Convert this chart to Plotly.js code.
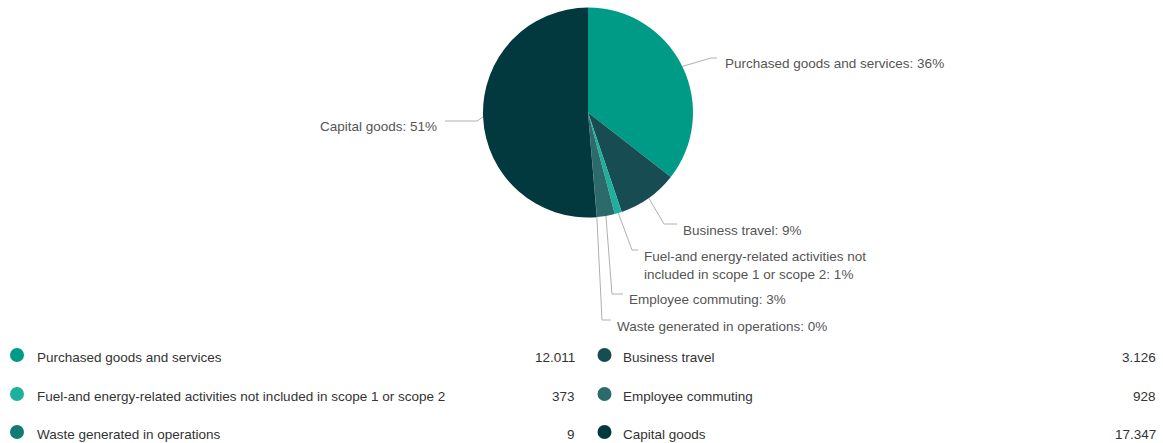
<!DOCTYPE html>
<html><head><meta charset="utf-8">
<script src="https://cdn.plot.ly/plotly-3.0.1.min.js"></script>
<style>html,body{margin:0;padding:0;background:#fff}#chart{width:1163px;height:443px}</style>
</head><body><div id="chart"></div>
<script>
// ---- data ----
const categories = ["Purchased goods and services", "Business travel",
  "Fuel-and energy-related activities not included in scope 1 or scope 2",
  "Employee commuting", "Waste generated in operations", "Capital goods"];
const pieLabelText = ["Purchased goods and services", "Business travel",
  "Fuel-and energy-related activities not<br>included in scope 1 or scope 2",
  "Employee commuting", "Waste generated in operations", "Capital goods"];
const values = [12011, 3126, 373, 928, 9, 17347];
const colors = ["#009b87", "#174d52", "#1db09c", "#2d6a6c", "#127d6e", "#01393e"];

// ---- layout constants (pixels) ----
const W = 1163, H = 443;
const CX = 588, CY = 112.5, R = 105;
const px = x => x / W, py = y => 1 - y / H;
const FONT = 'Liberation Sans, Arial, sans-serif';

// label placement: text position, anchor, elbow point, end of horizontal
const labelPos = [
  {tx: 723, ty: 64,  anchor: 'left',  ex: 711, ey: 58,  hx: 717},
  {tx: 681, ty: 230, anchor: 'left',  ex: 664, ey: 224, hx: 677},
  {tx: 642, ty: 265, anchor: 'left',  ex: 632, ey: 250, hx: 638},
  {tx: 627, ty: 299, anchor: 'left',  ex: 612, ey: 294, hx: 623},
  {tx: 615, ty: 326, anchor: 'left',  ex: 602, ey: 320, hx: 611},
  {tx: 439, ty: 127, anchor: 'right', ex: 477, ey: 121, hx: 445}
];
const legendCols = [{cx: 17, tx: 35, vx: 577}, {cx: 604.5, tx: 621, vx: 1158}];
const legendRows = [357, 396, 434];

function fmt(n) {
  return String(n).replace(/\B(?=(\d{3})+(?!\d))/g, ".");
}

const total = values.reduce((a, b) => a + b, 0);
const shapes = [], annotations = [];
let cum = 0;
values.forEach((v, i) => {
  const mid = (cum + v / 2) / total;
  cum += v;
  const ang = mid * 2 * Math.PI;
  const sx = CX + R * Math.sin(ang), sy = CY - R * Math.cos(ang);
  const L = labelPos[i];
  shapes.push({type: 'path', xref: 'paper', yref: 'paper',
    path: `M ${px(sx)} ${py(sy)} L ${px(L.ex)} ${py(L.ey)} L ${px(L.hx)} ${py(L.ey)}`,
    line: {color: '#b0b0b0', width: 1}});
  const pct = Math.round(v / total * 100);
  annotations.push({xref: 'paper', yref: 'paper', x: px(L.tx), y: py(L.ty),
    xanchor: L.anchor, yanchor: 'middle', showarrow: false, align: 'left',
    text: pieLabelText[i] + ': ' + pct + '%',
    font: {family: FONT, size: 13.5, color: '#555'}});

  // legend
  const c = legendCols[i % 2], ry = legendRows[Math.floor(i / 2)];
  const cr = 7, cy = ry - 2;
  shapes.push({type: 'circle', xref: 'paper', yref: 'paper',
    x0: px(c.cx - cr), x1: px(c.cx + cr), y0: py(cy + cr), y1: py(cy - cr),
    fillcolor: colors[i], line: {width: 0}});
  annotations.push({xref: 'paper', yref: 'paper', x: px(c.tx), y: py(ry),
    xanchor: 'left', yanchor: 'middle', showarrow: false, text: categories[i],
    font: {family: FONT, size: 13.5, color: '#333'}});
  annotations.push({xref: 'paper', yref: 'paper', x: px(c.vx), y: py(ry),
    xanchor: 'right', yanchor: 'middle', showarrow: false, text: fmt(v),
    font: {family: FONT, size: 13.5, color: '#333'}});
});

const trace = {
  type: 'pie', labels: categories, values: values,
  marker: {colors: colors, line: {width: 0}},
  sort: false, direction: 'clockwise', rotation: 0,
  textinfo: 'none', hoverinfo: 'label+value+percent',
  domain: {x: [px(CX - R), px(CX + R)], y: [py(CY + R), py(CY - R)]},
  showlegend: false
};

Plotly.newPlot('chart', [trace], {
  width: W, height: H, margin: {l: 0, r: 0, t: 0, b: 0},
  paper_bgcolor: '#fff', plot_bgcolor: '#fff', showlegend: false,
  shapes: shapes, annotations: annotations
}, {displayModeBar: false, staticPlot: true});
</script>
</body></html>
